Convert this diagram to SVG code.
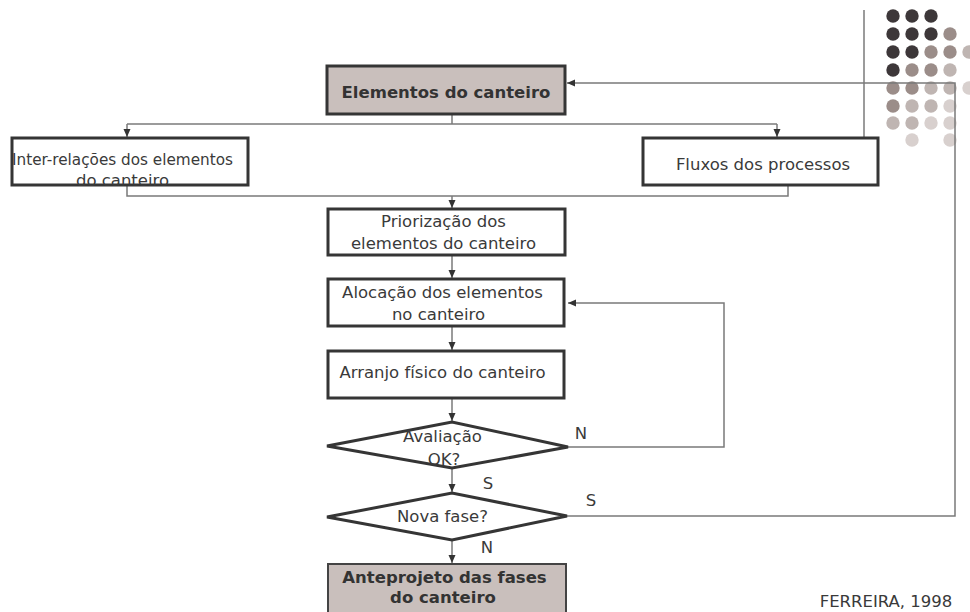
<svg xmlns="http://www.w3.org/2000/svg" width="970" height="612" viewBox="0 0 970 612">
  <style>
    .box { fill: #ffffff; stroke: #353535; stroke-width: 3; }
    .key { fill: #c9bfbc; stroke: #353535; stroke-width: 3; }
    .end { fill: #c9bfbc; stroke: #444444; stroke-width: 2; }
    .dec { fill: #ffffff; stroke: #353535; stroke-width: 3; stroke-linejoin: miter; }
    .t { font-family: "DejaVu Sans", Verdana, Tahoma, sans-serif; font-size: 16.5px; fill: #3a3a3a; text-anchor: middle; }
    .b { font-weight: bold; fill: #333333; }
    .lbl { font-family: "DejaVu Sans", Verdana, Tahoma, sans-serif; font-size: 16.5px; fill: #3a3a3a; text-anchor: middle; }
    .wire { fill: none; stroke: #7a7a7a; stroke-width: 1.5; }
    .d0 { fill: #3d3739; }
    .d1 { fill: #9b8d89; }
    .d2 { fill: #bfb5b2; }
    .d3 { fill: #d8d0ce; }
  </style>
  <defs>
    <marker id="arrow" markerUnits="userSpaceOnUse" markerWidth="9" markerHeight="8" refX="8" refY="3.5" orient="auto">
      <path d="M0,0 L8,3.5 L0,7 z" fill="#333333"/>
    </marker>
  </defs>

  <!-- decorative dot grid, top right -->
  <g id="dots">
    <circle class="d0" cx="893" cy="16" r="6.7"/>
    <circle class="d0" cx="912" cy="16" r="6.7"/>
    <circle class="d0" cx="931" cy="16" r="6.7"/>

    <circle class="d0" cx="893" cy="34" r="6.7"/>
    <circle class="d0" cx="912" cy="34" r="6.7"/>
    <circle class="d0" cx="931" cy="34" r="6.7"/>
    <circle class="d1" cx="950" cy="34" r="6.7"/>

    <circle class="d0" cx="893" cy="52" r="6.7"/>
    <circle class="d0" cx="912" cy="52" r="6.7"/>
    <circle class="d1" cx="931" cy="52" r="6.7"/>
    <circle class="d1" cx="950" cy="52" r="6.7"/>
    <circle class="d2" cx="969" cy="52" r="6.7"/>

    <circle class="d0" cx="893" cy="70" r="6.7"/>
    <circle class="d1" cx="912" cy="70" r="6.7"/>
    <circle class="d1" cx="931" cy="70" r="6.7"/>
    <circle class="d2" cx="950" cy="70" r="6.7"/>

    <circle class="d1" cx="893" cy="88" r="6.7"/>
    <circle class="d1" cx="912" cy="88" r="6.7"/>
    <circle class="d2" cx="931" cy="88" r="6.7"/>
    <circle class="d2" cx="950" cy="88" r="6.7"/>
    <circle class="d3" cx="969" cy="88" r="6.7"/>

    <circle class="d1" cx="893" cy="106" r="6.7"/>
    <circle class="d2" cx="912" cy="106" r="6.7"/>
    <circle class="d2" cx="931" cy="106" r="6.7"/>
    <circle class="d3" cx="950" cy="106" r="6.7"/>

    <circle class="d2" cx="893" cy="123" r="6.7"/>
    <circle class="d2" cx="912" cy="123" r="6.7"/>
    <circle class="d3" cx="931" cy="123" r="6.7"/>
    <circle class="d3" cx="950" cy="123" r="6.7"/>

    <circle class="d3" cx="912" cy="140" r="6.7"/>
    <circle class="d3" cx="950" cy="140" r="6.7"/>
  </g>

  <!-- connectors -->
  <g id="connectors">
    <!-- template rule -->
    <line class="wire" x1="864" y1="10" x2="864" y2="137"/>
    <!-- split from the first box -->
    <path class="wire" d="M452,114 V124"/>
    <path class="wire" d="M127,124 H777"/>
    <path class="wire" d="M127,124 V137" marker-end="url(#arrow)"/>
    <path class="wire" d="M777,124 V137" marker-end="url(#arrow)"/>
    <!-- merge into prioritisation -->
    <path class="wire" d="M127,185 V196 H788 V185"/>
    <path class="wire" d="M452,196 V208" marker-end="url(#arrow)"/>
    <!-- main chain -->
    <path class="wire" d="M452,255 V278" marker-end="url(#arrow)"/>
    <path class="wire" d="M452,326 V350" marker-end="url(#arrow)"/>
    <path class="wire" d="M452,398 V421" marker-end="url(#arrow)"/>
    <path class="wire" d="M452,468 V492" marker-end="url(#arrow)"/>
    <path class="wire" d="M452,540 V563" marker-end="url(#arrow)"/>
    <!-- N loop back to allocation -->
    <path class="wire" d="M568,447 H724 V303 H568" marker-end="url(#arrow)"/>
    <!-- S loop back to the first box -->
    <path class="wire" d="M567,516 H955 V83 H567" marker-end="url(#arrow)"/>
  </g>

  <g id="n-elementos">
    <rect class="key" x="327" y="66" width="238" height="48"/>
    <text class="t b" x="446" y="98">Elementos do canteiro</text>
  </g>

  <g id="n-inter">
    <rect class="box" x="12" y="138" width="236" height="47"/>
    <text class="t" x="122.5" y="165" textLength="221" lengthAdjust="spacingAndGlyphs">Inter-relações dos elementos</text>
    <text class="t" x="122.5" y="185.5">do canteiro</text>
  </g>

  <g id="n-fluxos">
    <rect class="box" x="643" y="138" width="235" height="47"/>
    <text class="t" x="763" y="170">Fluxos dos processos</text>
  </g>

  <g id="n-priorizacao">
    <rect class="box" x="328" y="209" width="237" height="46"/>
    <text class="t" x="443.5" y="227">Priorização dos</text>
    <text class="t" x="443.5" y="249">elementos do canteiro</text>
  </g>

  <g id="n-alocacao">
    <rect class="box" x="328" y="279" width="236" height="47"/>
    <text class="t" x="442.5" y="298">Alocação dos elementos</text>
    <text class="t" x="438.5" y="320">no canteiro</text>
  </g>

  <g id="n-arranjo">
    <rect class="box" x="328" y="351" width="236" height="47"/>
    <text class="t" x="442.5" y="378">Arranjo físico do canteiro</text>
  </g>

  <g id="n-avaliacao">
    <polygon class="dec" points="327,446 452,422 568,447 452,468"/>
    <text class="t" x="442.5" y="442">Avaliação</text>
    <text class="t" x="444" y="465">OK?</text>
  </g>

  <g id="n-nova-fase">
    <polygon class="dec" points="327,517 452,493 567,516 452,540"/>
    <text class="t" x="442.5" y="522">Nova fase?</text>
  </g>

  <g id="n-anteprojeto">
    <rect class="end" x="328" y="564" width="238" height="50"/>
    <text class="t b" x="444.5" y="583">Anteprojeto das fases</text>
    <text class="t b" x="443" y="603">do canteiro</text>
  </g>

  <!-- branch labels -->
  <g id="labels">
    <text class="lbl" x="581" y="439">N</text>
    <text class="lbl" x="488" y="489">S</text>
    <text class="lbl" x="591" y="506">S</text>
    <text class="lbl" x="487" y="553">N</text>
  </g>

  <g id="source">
    <text class="t" x="886" y="607">FERREIRA, 1998</text>
  </g>
</svg>
